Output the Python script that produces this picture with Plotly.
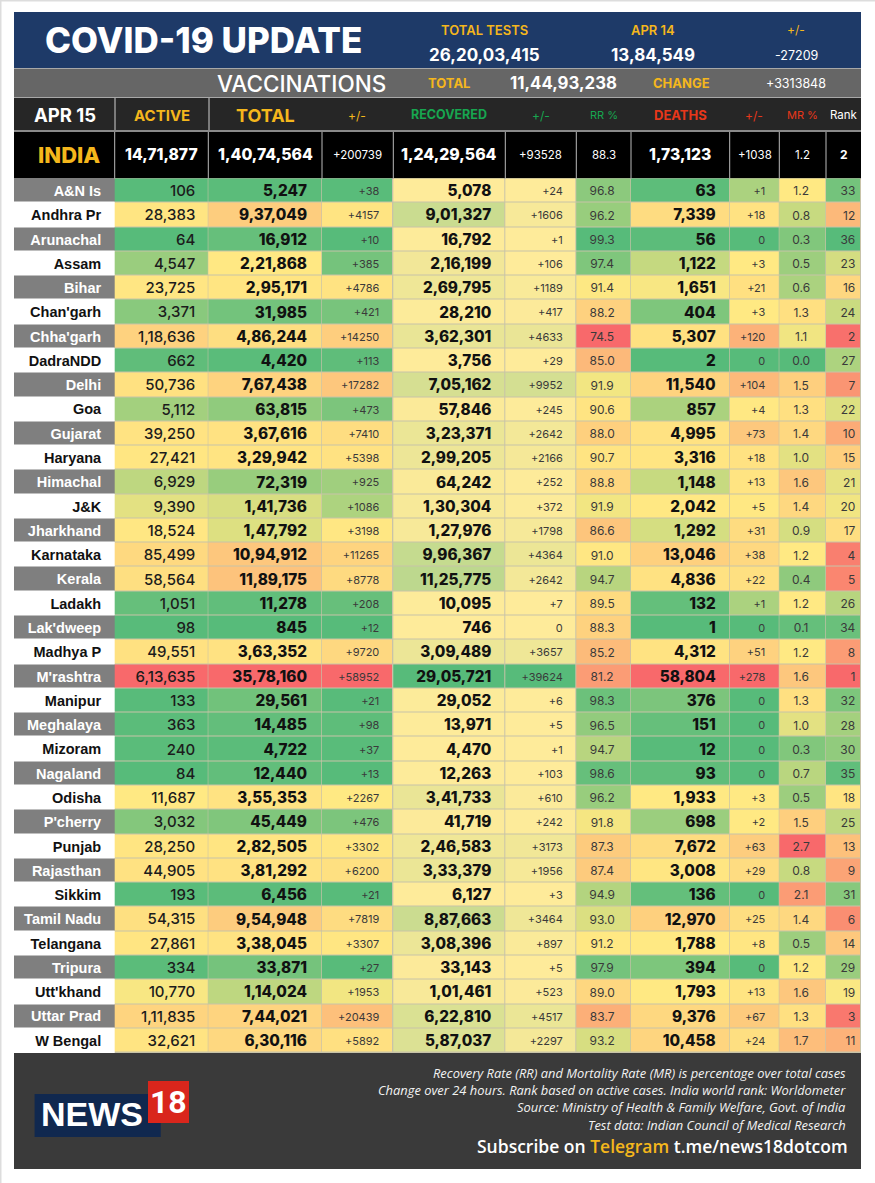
import numpy as np
import plotly.graph_objects as go

# --- data ---
states = ["A&N Is", "Andhra Pr", "Arunachal", "Assam", "Bihar", "Chan'garh", "Chha'garh", "DadraNDD",
          "Delhi", "Goa", "Gujarat", "Haryana", "Himachal", "J&K", "Jharkhand", "Karnataka", "Kerala",
          "Ladakh", "Lak'dweep", "Madhya P", "M'rashtra", "Manipur", "Meghalaya", "Mizoram", "Nagaland",
          "Odisha", "P'cherry", "Punjab", "Rajasthan", "Sikkim", "Tamil Nadu", "Telangana", "Tripura",
          "Utt'khand", "Uttar Prad", "W Bengal"]
active = [106, 28383, 64, 4547, 23725, 3371, 118636, 662, 50736, 5112, 39250, 27421, 6929, 9390, 18524,
          85499, 58564, 1051, 98, 49551, 613635, 133, 363, 240, 84, 11687, 3032, 28250, 44905, 193,
          54315, 27861, 334, 10770, 111835, 32621]
total = [5247, 937049, 16912, 221868, 295171, 31985, 486244, 4420, 767438, 63815, 367616, 329942, 72319,
         141736, 147792, 1094912, 1189175, 11278, 845, 363352, 3578160, 29561, 14485, 4722, 12440,
         355353, 45449, 282505, 381292, 6456, 954948, 338045, 33871, 114024, 744021, 630116]
total_chg = [38, 4157, 10, 385, 4786, 421, 14250, 113, 17282, 473, 7410, 5398, 925, 1086, 3198, 11265,
             8778, 208, 12, 9720, 58952, 21, 98, 37, 13, 2267, 476, 3302, 6200, 21, 7819, 3307, 27,
             1953, 20439, 5892]
recovered = [5078, 901327, 16792, 216199, 269795, 28210, 362301, 3756, 705162, 57846, 323371, 299205,
             64242, 130304, 127976, 996367, 1125775, 10095, 746, 309489, 2905721, 29052, 13971, 4470,
             12263, 341733, 41719, 246583, 333379, 6127, 887663, 308396, 33143, 101461, 622810, 587037]
recovered_chg = [24, 1606, 1, 106, 1189, 417, 4633, 29, 9952, 245, 2642, 2166, 252, 372, 1798, 4364,
                 2642, 7, 0, 3657, 39624, 6, 5, 1, 103, 610, 242, 3173, 1956, 3, 3464, 897, 5, 523,
                 4517, 2297]
rr_pct = [96.8, 96.2, 99.3, 97.4, 91.4, 88.2, 74.5, 85.0, 91.9, 90.6, 88.0, 90.7, 88.8, 91.9, 86.6,
          91.0, 94.7, 89.5, 88.3, 85.2, 81.2, 98.3, 96.5, 94.7, 98.6, 96.2, 91.8, 87.3, 87.4, 94.9,
          93.0, 91.2, 97.9, 89.0, 83.7, 93.2]
deaths = [63, 7339, 56, 1122, 1651, 404, 5307, 2, 11540, 857, 4995, 3316, 1148, 2042, 1292, 13046, 4836,
          132, 1, 4312, 58804, 376, 151, 12, 93, 1933, 698, 7672, 3008, 136, 12970, 1788, 394, 1793,
          9376, 10458]
deaths_chg = [1, 18, 0, 3, 21, 3, 120, 0, 104, 4, 73, 18, 13, 5, 31, 38, 22, 1, 0, 51, 278, 0, 0, 0, 0,
              3, 2, 63, 29, 0, 25, 8, 0, 13, 67, 24]
mr_pct = [1.2, 0.8, 0.3, 0.5, 0.6, 1.3, 1.1, 0.0, 1.5, 1.3, 1.4, 1.0, 1.6, 1.4, 0.9, 1.2, 0.4, 1.2, 0.1,
          1.2, 1.6, 1.3, 1.0, 0.3, 0.7, 0.5, 1.5, 2.7, 0.8, 2.1, 1.4, 0.5, 1.2, 1.6, 1.3, 1.7]
rank = [33, 12, 36, 23, 16, 24, 2, 27, 7, 22, 10, 15, 21, 20, 17, 4, 5, 26, 34, 8, 1, 32, 28, 30, 35, 18,
        25, 13, 9, 31, 6, 14, 29, 19, 3, 11]

india_row = ["14,71,877", "1,40,74,564", "+200739", "1,24,29,564", "+93528", "88.3", "1,73,123", "+1038",
             "1.2", "2"]

# --- page geometry, in pixels ---
W, H = 875, 1183
LEFT, RIGHT = 14, 861
ROW_TOP, ROW_H = 178.5, 24.28
TEXT_DROP = 0.07  # cell text sits a little under the row centre
edges = [14, 114.7, 208.3, 322, 393.3, 505.3, 576.3, 631, 729.7, 779.3, 826, 861.3]

GREEN, YELLOW, RED = "#57bb7a", "#ffe983", "#f8696b"
PALE = "#feeb9a"
GOLD = "#f5b71c"
FONT = "Inter"


def indian(n):
    # 1234567 -> 12,34,567
    s = str(n)
    if len(s) <= 3:
        return s
    head, tail = s[:-3], s[-3:]
    parts = []
    while len(head) > 2:
        parts.insert(0, head[-2:])
        head = head[:-2]
    parts.insert(0, head)
    return ",".join(parts + [tail])


def signed(n):
    return "+%d" % n if n else "0"


def scale_up(vals, mid=None):
    # green at the low end, yellow at the median, red at the top
    mid = np.median(vals) if mid is None else mid
    pos = (mid - min(vals)) / (max(vals) - min(vals))
    return [[0, GREEN], [pos, YELLOW], [1, RED]]


def scale_down(vals):
    pos = (np.median(vals) - min(vals)) / (max(vals) - min(vals))
    return [[0, RED], [pos, YELLOW], [1, GREEN]]


columns = [
    (active, scale_up(active), [indian(v) for v in active], "right", 15, 500, "#1c1c1c", 13),
    (total, scale_up(total), [indian(v) for v in total], "right", 15.3, 800, "#111111", 15),
    (total_chg, scale_up(total_chg), [signed(v) for v in total_chg], "right", 11, 400, "#3a3a3a", 14),
    (recovered, [[0, PALE], [1, GREEN]], [indian(v) for v in recovered], "right", 15.3, 800, "#111111", 14),
    (recovered_chg, [[0, PALE], [1, GREEN]], [signed(v) for v in recovered_chg], "right", 11, 400, "#3a3a3a", 13.5),
    (rr_pct, scale_down(rr_pct), ["%.1f" % v for v in rr_pct], "center", 12, 400, "#3a3a3a", 0),
    (deaths, scale_up(deaths), [indian(v) for v in deaths], "right", 15.3, 800, "#111111", 14),
    (deaths_chg, scale_up(deaths_chg, mid=2), [signed(v) for v in deaths_chg], "right", 11, 400, "#3a3a3a", 14),
    (mr_pct, scale_up(mr_pct), ["%.1f" % v for v in mr_pct], "center", 12, 400, "#3a3a3a", 0),
    (rank, scale_down(rank), [str(v) for v in rank], "right", 12, 400, "#3a3a3a", 6),
]

rows = list(range(len(states)))
text_rows = [r + TEXT_DROP for r in rows]
fig = go.Figure()

# state names column, alternating grey and white
fig.add_trace(go.Heatmap(x=edges[:2], y=rows, z=[[i % 2] for i in rows], zmin=0, zmax=1,
                         colorscale=[[0, "#7f7f7f"], [1, "#ffffff"]], showscale=False,
                         ygap=1, hoverinfo="skip"))
fig.add_trace(go.Scatter(x=[edges[1] - 13.5] * len(rows), y=text_rows, mode="text", text=states,
                         textposition="middle left", hoverinfo="skip",
                         textfont=dict(family="Liberation Sans", size=14.5, weight=700,
                                       color=["#ffffff" if i % 2 == 0 else "#111111" for i in rows])))

for i, (vals, cscale, labels, align, size, weight, color, pad) in enumerate(columns):
    left, right = edges[i + 1], edges[i + 2]
    fig.add_trace(go.Heatmap(x=[left, right], y=rows, z=[[v] for v in vals], zmin=min(vals), zmax=max(vals),
                             colorscale=cscale, showscale=False, xgap=1, ygap=1, hoverinfo="skip"))
    if align == "right":
        tx, pos = right - pad, "middle left"
    else:
        tx, pos = (left + right) / 2 - 1.5, "middle center"
    fig.add_trace(go.Scatter(x=[tx] * len(rows), y=text_rows, mode="text", text=labels, textposition=pos,
                             hoverinfo="skip",
                             textfont=dict(family=FONT, size=size, weight=weight, color=color)))


def py(y):
    return 1 - y / H


def band(x0, x1, y0, y1, color, layer="below"):
    fig.add_shape(type="rect", xref="x", yref="paper", x0=x0, x1=x1, y0=py(y0), y1=py(y1),
                  fillcolor=color, line_width=0, layer=layer)


def vline(x, y0, y1, color="#cfcfcf", width=1):
    fig.add_shape(type="line", xref="x", yref="paper", x0=x, x1=x, y0=py(y0), y1=py(y1),
                  line=dict(color=color, width=width))


def label(text, x, y, size, color="#ffffff", weight=400, family=FONT, anchor="center", italic=False):
    fig.add_annotation(xref="x", yref="paper", x=x, y=py(y), text=text, showarrow=False, xanchor=anchor,
                       yanchor="middle",
                       font=dict(family=family, size=size, color=color, weight=weight,
                                 style="italic" if italic else "normal"))


# page edge
fig.add_shape(type="line", xref="paper", yref="paper", x0=0, x1=0, y0=0, y1=1, line=dict(color="#dddddd", width=3))
fig.add_shape(type="line", xref="paper", yref="paper", x0=0, x1=1, y0=1, y1=1, line=dict(color="#dddddd", width=3))

# bands
band(LEFT, RIGHT, 12, 68, "#1e3a68")
band(LEFT, RIGHT, 68, 98, "#a8a8a8")
band(LEFT, RIGHT, 69, 97, "#666666")
band(LEFT, RIGHT, 98, 131, "#262626")
band(LEFT, RIGHT, 130, 132, "#8a8a8a")
band(LEFT, RIGHT, 132, 178.5, "#000000")
band(edges[1], RIGHT, 178.5, 1053, "#c8c3a8")
band(LEFT, RIGHT, 1053, 1169, "#3a3a3a")

vline(115, 98, 130)
vline(209, 98, 130)
for e in edges[1:-1]:
    vline(e, 132, 178.5, "#bbbbbb")

# title block
label("COVID-19 UPDATE", 203, 40, 35, weight=800)
label("TOTAL TESTS", 484, 30, 13, GOLD, 600)
label("APR 14", 653, 30, 13, GOLD, 600)
label("+/-", 796, 30, 12, GOLD)
label("26,20,03,415", 484.5, 55, 17, weight=700)
label("13,84,549", 653, 55, 17, weight=700)
label("-27209", 796, 55, 12.5)

# vaccinations
label("VACCINATIONS", 301, 83, 22.5, weight=500)
label("TOTAL", 449, 83, 13, GOLD, 700)
label("11,44,93,238", 563, 83, 16.8, weight=700)
label("CHANGE", 681, 83, 13, GOLD, 700)
label("+3313848", 796, 83, 12.5)

# column headers
RED_TXT, GREEN_TXT = "#e8371a", "#17a650"
label("APR 15", 65, 115, 18.5, weight=700)
label("ACTIVE", 162, 115, 15, GOLD, 700)
label("TOTAL", 265.5, 115, 18, GOLD, 700)
label("+/-", 357, 115, 12, GOLD)
label("RECOVERED", 449, 114, 12.5, GREEN_TXT, 700)
label("+/-", 541, 115, 12, GREEN_TXT)
label("RR %", 604, 115, 11, GREEN_TXT)
label("DEATHS", 680, 115, 13, RED_TXT, 700)
label("+/-", 754, 115, 12, RED_TXT)
label("MR %", 802, 115, 11, RED_TXT)
label("Rank", 844, 115, 11.5)

# India row
label("INDIA", 69, 155, 22, GOLD, 800)
india_sizes = [15.7, 15.8, 11.5, 15.8, 11.5, 11.5, 15.7, 11.5, 11.5, 12]
india_weights = [800, 800, 400, 800, 400, 400, 800, 400, 400, 700]
for i, txt in enumerate(india_row):
    label(txt, (edges[i + 1] + edges[i + 2]) / 2, 155, india_sizes[i], weight=india_weights[i])

# footer notes
notes = ["Recovery Rate (RR) and Mortality Rate (MR) is percentage over total cases",
         "Change over 24 hours. Rank based on active cases. India world rank: Worldometer",
         "Source: Ministry of Health & Family Welfare, Govt. of India",
         "Test data: Indian Council of Medical Research"]
for note, y in zip(notes, [1072.7, 1090, 1107.3, 1124.7]):
    label(note, 848, y, 12.9, "#f2f2f2", family="Open Sans", anchor="right", italic=True)
label('Subscribe on <span style="color:%s">Telegram</span> t.me/news18dotcom' % GOLD, 849.5, 1145.5, 17.5,
      weight=600, anchor="right", family="Open Sans")

# logo
band(34.6, 160.7, 1094, 1137, "#10284f", layer="above")
band(148, 189, 1081, 1123, "#d9261c", layer="above")
label("NEWS", 91.5, 1114, 34, weight=700, family="Liberation Sans")
label("18", 168.5, 1102, 32, weight=700, family="Roboto")

fig.update_xaxes(range=[0, W], visible=False, fixedrange=True)
fig.update_yaxes(range=[(H - ROW_TOP) / ROW_H - 0.5, -ROW_TOP / ROW_H - 0.5], visible=False, fixedrange=True)
fig.update_layout(width=W, height=H, margin=dict(l=0, r=0, t=0, b=0), showlegend=False,
                  paper_bgcolor="#ffffff", plot_bgcolor="#ffffff")
fig.write_html("out.html", config={"displayModeBar": False},
               post_script="document.body.style.margin='0';document.body.style.overflow='hidden';")
